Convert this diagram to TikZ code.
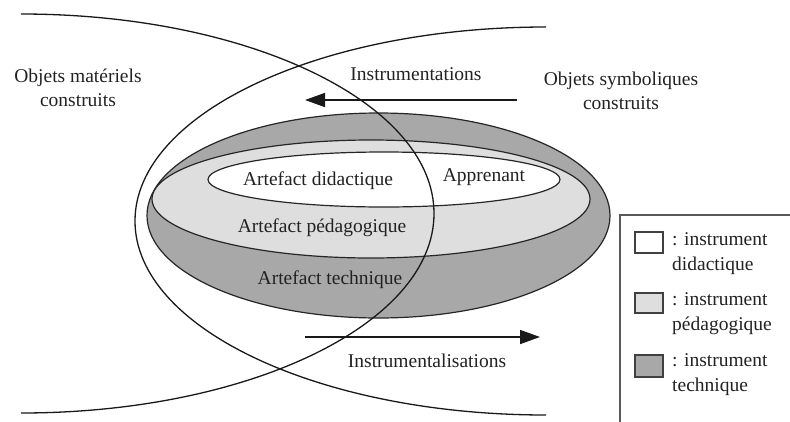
\documentclass[tikz,border=0pt]{standalone}
\usepackage{fontspec}
\setmainfont{Liberation Serif}
\usetikzlibrary{arrows.meta}
\definecolor{techgray}{HTML}{A8A8A8}
\definecolor{pedagray}{HTML}{DEDEDE}
\definecolor{inkgray}{HTML}{222222}
\begin{document}
\begin{tikzpicture}[x=1pt,y=-1pt,
  curve/.style={line width=1.3pt, draw=black!90},
  ring/.style={line width=1.2pt, draw=black!85},
  lbl/.style={font=\fontsize{19.5}{23.5}\selectfont, text=inkgray, align=center, inner sep=0pt},
  leg/.style={font=\fontsize{19.5}{25}\selectfont, text=inkgray, align=left, inner sep=0pt, anchor=north west},
  flow/.style={line width=1.6pt, draw=black!90, -{Triangle[length=20pt,width=14pt]}},
  swatch/.style={draw=black!75, line width=1.6pt},
  frame/.style={draw=black!65, line width=1.8pt}]
\useasboundingbox (0,0) rectangle (790,421);

% nested artefact ellipses
\path[ring, fill=techgray] (378.5,215.5) ellipse[x radius=231.5, y radius=102.5];
\path[ring, fill=pedagray] (371,199) ellipse[x radius=219, y radius=59];
\path[ring, fill=white] (384,179.5) ellipse[x radius=176, y radius=27.5];

% the two crossing domains
\draw[curve] (21,14) arc[start angle=-90, end angle=90, x radius=413, y radius=199.5];
\draw[curve] (546,27) arc[start angle=270, end angle=90, x radius=411, y radius=194];

% flows
\coordinate (topS) at (517,100);
\coordinate (topE) at (305,100);
\draw[flow] (topS) -- (topE);
\coordinate (botS) at (305,337);
\coordinate (botE) at (540,337);
\draw[flow] (botS) -- (botE);

% labels
\node[lbl] (matobj) at (78,88) {Objets matériels\\construits};
\node[lbl] (symobj) at (621,91) {Objets symboliques\\construits};
\node[lbl] (instr) at (416,74) {Instrumentations};
\node[lbl] (instrl) at (427,361) {Instrumentalisations};
\node[lbl] (didac) at (318,181) {Artefact didactique};
\node[lbl] (appr) at (484,177) {Apprenant};
\node[lbl] (peda) at (322,228) {Artefact pédagogique};
\node[lbl] (tech) at (330,280) {Artefact technique};

% legend
\draw[frame] (800,215) -- (620,215) -- (620,430);
\draw[swatch, fill=white] (635,232) rectangle (663,253);
\draw[swatch, fill=pedagray] (635,293) rectangle (663,313);
\draw[swatch, fill=techgray] (635,355) rectangle (663,377);
\node[leg] (legA) at (672,232) {: instrument\\didactique};
\node[leg] (legB) at (672,292) {: instrument\\pédagogique};
\node[leg] (legC) at (672,353) {: instrument\\technique};
\end{tikzpicture}
\end{document}
